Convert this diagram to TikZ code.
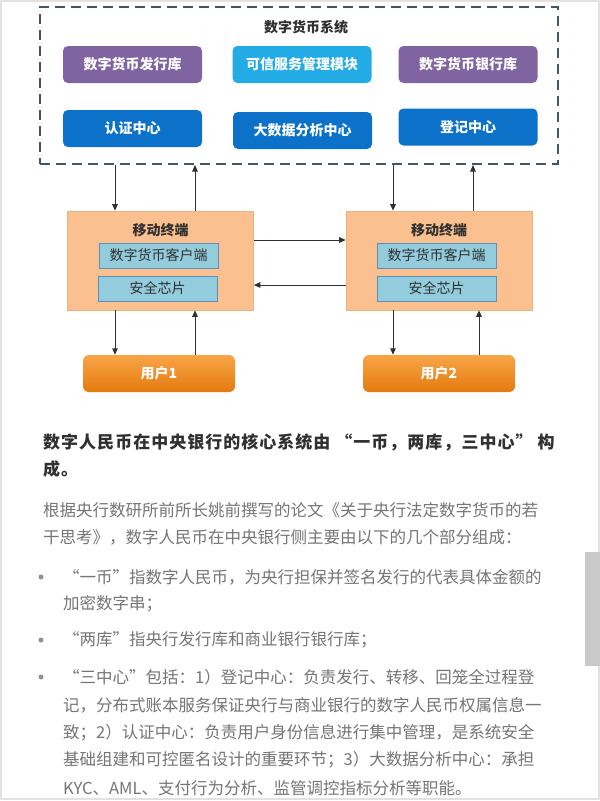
\documentclass[tikz,border=0pt]{standalone}
\usepackage{fontspec}
\setmainfont{Noto Sans CJK SC}
\usepackage{xcolor}
\usetikzlibrary{arrows.meta,positioning,calc}
\definecolor{dashblue}{HTML}{44546A}
\definecolor{purplebg}{HTML}{8064A2}
\definecolor{cyanbg}{HTML}{22ABE4}
\definecolor{bluebg}{HTML}{0C71C9}
\definecolor{peach}{HTML}{FAC090}
\definecolor{peachline}{HTML}{EDB07E}
\definecolor{lightblue}{HTML}{93CDDD}
\definecolor{innerline}{HTML}{5E8FBB}
\definecolor{orangetop}{HTML}{F8A548}
\definecolor{orangebot}{HTML}{E47A0E}
\definecolor{bodygray}{HTML}{757575}
\definecolor{headgray}{HTML}{303030}
\definecolor{framegray}{HTML}{E2E2E2}
\definecolor{bargray}{HTML}{C9C9C9}

\begin{document}
\begin{tikzpicture}[x=1pt,y=-1pt,
    every node/.style={inner sep=0pt},
    sysbox/.style={draw=dashblue, line width=2pt, dash pattern=on 10pt off 6pt},
    topbox/.style={rounded corners=5pt, minimum width=139pt, minimum height=37pt,
        text=white, font=\fontsize{14}{14}\selectfont\bfseries},
    termbox/.style={fill=peach, draw=peachline, line width=0.6pt, minimum width=186pt, minimum height=99pt},
    innerbox/.style={fill=lightblue, draw=innerline, line width=0.6pt, minimum width=119pt, minimum height=25pt,
        text=headgray, font=\fontsize{14}{14}\selectfont},
    userbox/.style={rounded corners=6pt, top color=orangetop, bottom color=orangebot, minimum width=152pt,
        minimum height=37pt, text=white, font=\fontsize{14}{14}\selectfont\bfseries},
    arr/.style={-{Triangle[length=6.5pt,width=5.5pt]}, line width=1pt, draw=headgray},
    bodyline/.style={anchor=west, text=bodygray, font=\fontsize{16.5}{16.5}\selectfont},
    headline/.style={anchor=west, text=headgray, font=\fontsize{17}{17}\selectfont\bfseries\addfontfeature{LetterSpace=6}}]

    % page frame and scroll bar
    \fill[white] (0,0) rectangle (600,801);
    \draw[framegray, line width=1.5pt] (1,1) rectangle (599,799);
    \fill[bargray] (585,552) rectangle (600,666);

    % digital currency system
    \node[sysbox, minimum width=518pt, minimum height=157pt] (sys) at (299,85.5) {};
    \node[text=headgray, font=\fontsize{14}{14}\selectfont\bfseries] (systitle) at (306,27) {数字货币系统};
    \node[topbox, fill=purplebg] (issue) at (132.5,64.5) {数字货币发行库};
    \node[topbox, fill=cyanbg] (trust) at (302,64.5) {可信服务管理模块};
    \node[topbox, fill=purplebg] (bank) at (468,64.5) {数字货币银行库};
    \node[topbox, fill=bluebg] (auth) at (132.5,128.5) {认证中心};
    \node[topbox, fill=bluebg] (bigdata) at (302.5,130.5) {大数据分析中心};
    \node[topbox, fill=bluebg] (register) at (468,127) {登记中心};

    % mobile terminals
    \node[termbox] (term1) at (160.5,260.5) {};
    \node[text=headgray, font=\fontsize{14}{14}\selectfont\bfseries] (termtitle1) at (160.5,230) {移动终端};
    \node[innerbox] (client1) at (158.5,255.5) {数字货币客户端};
    \node[innerbox] (chip1) at (157.5,288.5) {安全芯片};

    \node[termbox] (term2) at (439,260.5) {};
    \node[text=headgray, font=\fontsize{14}{14}\selectfont\bfseries] (termtitle2) at (439,230) {移动终端};
    \node[innerbox] (client2) at (436.5,255.5) {数字货币客户端};
    \node[innerbox] (chip2) at (436.5,288.5) {安全芯片};

    % users
    \node[userbox] (user1) at (159,373.5) {用户1};
    \node[userbox] (user2) at (439,373.5) {用户2};

    % arrows
    \draw[arr] ([xshift=-45.5pt]term1.north |- sys.south) -- ([xshift=-45.5pt]term1.north);
    \draw[arr] ([xshift=34.5pt]term1.north) -- ([xshift=34.5pt]term1.north |- sys.south);
    \draw[arr] ([xshift=-46pt]term2.north |- sys.south) -- ([xshift=-46pt]term2.north);
    \draw[arr] ([xshift=34pt]term2.north) -- ([xshift=34pt]term2.north |- sys.south);
    \draw[arr] ([yshift=20.5pt]term1.east) -- ([yshift=20.5pt]term1.east -| term2.west);
    \draw[arr] ([yshift=-24.5pt]term2.west) -- ([yshift=-24.5pt]term2.west -| term1.east);
    \draw[arr] ([xshift=-45.5pt]term1.south) -- ([xshift=-45.5pt]term1.south |- user1.north);
    \draw[arr] ([xshift=34.5pt]term1.south |- user1.north) -- ([xshift=34.5pt]term1.south);
    \draw[arr] ([xshift=-46pt]term2.south) -- ([xshift=-46pt]term2.south |- user2.north);
    \draw[arr] ([xshift=40pt]term2.south |- user2.north) -- ([xshift=40pt]term2.south);

    % article text
    \node[headline] (headA) at (43,442) {数字人民币在中央银行的核心系统由 “一币，两库，三中心” 构};
    \node[headline] (headB) at (43,469) {成。};
    \node[bodyline] (paraA) at (43,510) {根据央行数研所前所长姚前撰写的论文《关于央行法定数字货币的若};
    \node[bodyline] (paraB) at (43,537) {干思考》，数字人民币在中央银行侧主要由以下的几个部分组成：};

    \foreach \y in {577,640,677}
        \fill[bodygray!80] (41,\y) circle (2.5pt);
    \node[bodyline] (coinA) at (63,577) {“一币”指数字人民币，为央行担保并签名发行的代表具体金额的};
    \node[bodyline] (coinB) at (63,604) {加密数字串；};
    \node[bodyline] (vault) at (63,640) {“两库”指央行发行库和商业银行银行库；};
    \node[bodyline] (centreA) at (63,677) {“三中心”包括：1）登记中心：负责发行、转移、回笼全过程登};
    \node[bodyline] (centreB) at (63,705) {记，分布式账本服务保证央行与商业银行的数字人民币权属信息一};
    \node[bodyline] (centreC) at (63,733) {致；2）认证中心：负责用户身份信息进行集中管理，是系统安全};
    \node[bodyline] (centreD) at (63,760) {基础组建和可控匿名设计的重要环节；3）大数据分析中心：承担};
    \node[bodyline] (centreE) at (63,788) {KYC、AML、支付行为分析、监管调控指标分析等职能。};
\end{tikzpicture}
\end{document}
